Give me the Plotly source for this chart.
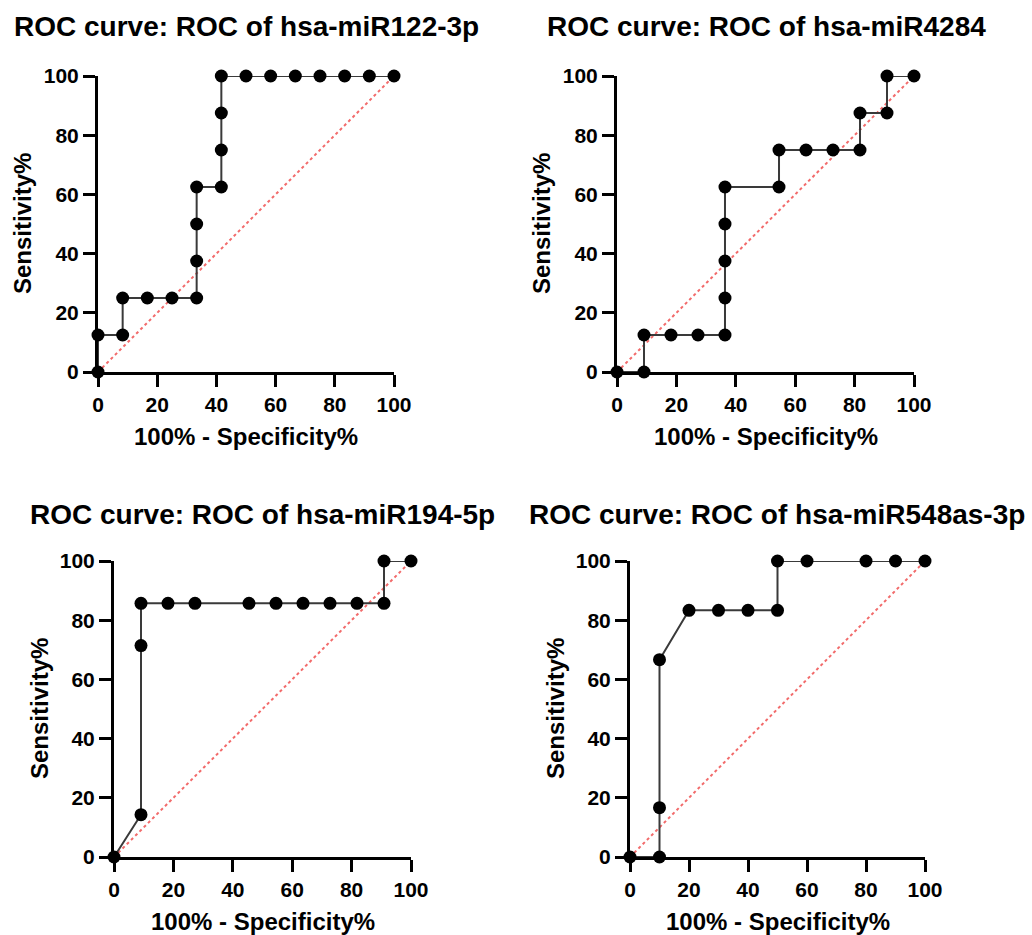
import plotly.graph_objects as go

# ROC points (100% - Specificity%, Sensitivity%) for each miRNA
titles = [
    "ROC curve: ROC of hsa-miR122-3p",
    "ROC curve: ROC of hsa-miR4284",
    "ROC curve: ROC of hsa-miR194-5p",
    "ROC curve: ROC of hsa-miR548as-3p",
]

mir122_x = [0, 0, 8.33, 8.33, 16.67, 25, 33.33, 33.33, 33.33, 33.33, 41.67, 41.67,
            41.67, 41.67, 50, 58.33, 66.67, 75, 83.33, 91.67, 100]
mir122_y = [0, 12.5, 12.5, 25, 25, 25, 25, 37.5, 50, 62.5, 62.5, 75,
            87.5, 100, 100, 100, 100, 100, 100, 100, 100]

mir4284_x = [0, 9.09, 9.09, 18.18, 27.27, 36.36, 36.36, 36.36, 36.36, 36.36,
             54.55, 54.55, 63.64, 72.73, 81.82, 81.82, 90.91, 90.91, 100]
mir4284_y = [0, 0, 12.5, 12.5, 12.5, 12.5, 25, 37.5, 50, 62.5,
             62.5, 75, 75, 75, 75, 87.5, 87.5, 100, 100]

mir194_x = [0, 9.09, 9.09, 9.09, 18.18, 27.27, 45.45, 54.55, 63.64, 72.73,
            81.82, 90.91, 90.91, 100]
mir194_y = [0, 14.29, 71.43, 85.71, 85.71, 85.71, 85.71, 85.71, 85.71, 85.71,
            85.71, 85.71, 100, 100]

mir548_x = [0, 10, 10, 10, 20, 30, 40, 50, 50, 60, 80, 90, 100]
mir548_y = [0, 0, 16.67, 66.67, 83.33, 83.33, 83.33, 83.33, 100, 100, 100, 100, 100]

series = [(mir122_x, mir122_y), (mir4284_x, mir4284_y),
          (mir194_x, mir194_y), (mir548_x, mir548_y)]

ref_line = [0, 100]
ticks = [0, 20, 40, 60, 80, 100]

W, H = 1032, 935
FONT = "Liberation Sans, Arial, sans-serif"

# panel boxes in pixels: (left, right, top, bottom)
boxes = [
    (98, 394, 76, 372),
    (617, 914, 76, 372),
    (114, 411, 561, 857),
    (630, 925, 561, 857),
]
title_pos = [(246, 26), (766, 26), (262, 514), (777, 514)]

fig = go.Figure()
annotations = []
for i, ((xs, ys), (l, r, t, b)) in enumerate(zip(series, boxes)):
    n = "" if i == 0 else str(i + 1)
    xa, ya = "x" + n, "y" + n
    # chance line
    fig.add_trace(go.Scatter(
        x=ref_line, y=ref_line, mode="lines", xaxis=xa, yaxis=ya,
        line=dict(color="#f26b6b", width=2, dash="dot"),
        hoverinfo="skip", showlegend=False, cliponaxis=False))
    fig.add_trace(go.Scatter(
        x=xs, y=ys, mode="lines+markers", xaxis=xa, yaxis=ya,
        line=dict(color="#3a3a3a", width=2),
        marker=dict(color="black", size=13),
        showlegend=False, cliponaxis=False))

    axis_common = dict(
        range=[0, 100], tickvals=ticks, showgrid=False, zeroline=False,
        showline=True, linecolor="black", linewidth=3,
        ticks="outside", ticklen=12, tickwidth=3, tickcolor="black",
        tickfont=dict(family=FONT, size=21, color="black", weight="bold"),
        automargin=False,
    )
    fig.layout["xaxis" + n] = dict(
        axis_common, domain=[l / W, r / W], anchor=ya)
    fig.layout["yaxis" + n] = dict(
        axis_common, domain=[1 - b / H, 1 - t / H], anchor=xa)

    tx, ty = title_pos[i]
    annotations.append(dict(
        text=titles[i], x=tx / W, y=1 - ty / H, xref="paper", yref="paper",
        showarrow=False, xanchor="center", yanchor="middle",
        font=dict(family=FONT, size=28, color="black", weight="bold")))
    annotations.append(dict(
        text="100% - Specificity%", x=(l + r) / 2 / W, y=1 - (b + 64) / H,
        xref="paper", yref="paper", showarrow=False,
        xanchor="center", yanchor="middle",
        font=dict(family=FONT, size=24, color="black", weight="bold")))
    annotations.append(dict(
        text="Sensitivity%", x=(l - 75) / W, y=1 - (t + b) / 2 / H,
        xref="paper", yref="paper", showarrow=False, textangle=-90,
        xanchor="center", yanchor="middle",
        font=dict(family=FONT, size=24, color="black", weight="bold")))

fig.update_layout(
    width=W, height=H, margin=dict(l=0, r=0, t=0, b=0, autoexpand=False),
    paper_bgcolor="white", plot_bgcolor="white",
    annotations=annotations,
)

fig.write_html("out.html")
